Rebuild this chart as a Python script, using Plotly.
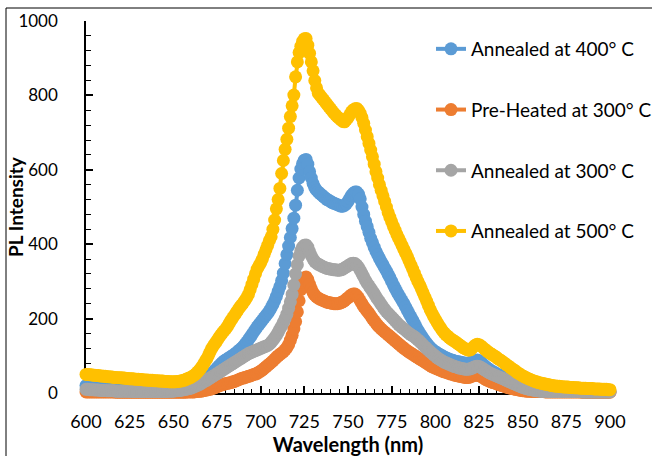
import plotly.graph_objects as go

# ---------------- data ----------------
wavelength = list(range(600, 901))  # nm, 1 nm step

annealed_400 = [
    20, 19, 18, 17, 16, 15, 14, 13, 12, 12,        # 600
    11, 11, 10, 10, 10, 9, 9, 9, 9, 8,             # 610
    8, 8, 8, 8, 8, 8, 7, 7, 7, 7,                  # 620
    7, 7, 7, 7, 7, 7, 7, 7, 7, 7,                  # 630
    7, 7, 7, 7, 7, 7, 7, 7, 7, 7,                  # 640
    7, 7, 8, 8, 9, 10, 11, 12, 13, 14,             # 650
    15, 16, 18, 20, 22, 24, 27, 30, 34, 38,        # 660
    42, 47, 52, 57, 62, 67, 72, 77, 82, 86,        # 670
    89, 92, 95, 98, 101, 104, 108, 112, 116, 120,  # 680
    125, 131, 137, 143, 150, 157, 164, 171, 178, 184,  # 690
    190, 196, 202, 208, 214, 221, 229, 238, 248, 260,  # 700
    273, 286, 302, 322, 348, 372, 395, 418, 442, 470,  # 710
    505, 545, 578, 602, 617, 626, 628, 615, 595, 578,  # 720
    563, 552, 545, 540, 536, 532, 528, 524, 520, 518,  # 730
    515, 512, 510, 508, 506, 504, 502, 502, 504, 508,  # 740
    515, 523, 531, 537, 540, 540, 535, 522, 500, 480,  # 750
    462, 447, 432, 416, 404, 392, 381, 371, 362, 353,  # 760
    345, 336, 328, 319, 310, 300, 290, 281, 272, 264,  # 770
    256, 248, 240, 231, 222, 213, 205, 196, 187, 178,  # 780
    169, 161, 154, 147, 140, 134, 128, 123, 118, 114,  # 790
    111, 108, 105, 102, 100, 97, 95, 93, 91, 89,       # 800
    88, 86, 85, 84, 83, 82, 81, 80, 80, 80,            # 810
    82, 84, 86, 88, 89, 87, 84, 79, 74, 70,            # 820
    66, 63, 60, 57, 55, 52, 50, 47, 45, 42,            # 830
    40, 38, 36, 34, 32, 30, 28, 26, 25, 23,            # 840
    22, 21, 20, 19, 18, 17, 16, 15, 14, 14,            # 850
    13, 13, 12, 12, 11, 11, 11, 10, 10, 10,            # 860
    9, 9, 9, 9, 8, 8, 8, 8, 8, 7,                      # 870
    7, 7, 7, 7, 6, 6, 6, 6, 6, 6,                      # 880
    5, 5, 5, 5, 5, 5, 4, 4, 4, 4,                      # 890
    4,                                                 # 900
]

preheated_300 = [
    3, 3, 3, 3, 3, 3, 3, 3, 3, 3,                  # 600
    3, 3, 3, 3, 3, 3, 3, 2, 2, 2,                  # 610
    2, 2, 2, 2, 2, 2, 2, 2, 2, 2,                  # 620
    2, 2, 2, 2, 2, 2, 2, 2, 2, 2,                  # 630
    2, 2, 2, 2, 2, 2, 2, 2, 2, 2,                  # 640
    2, 2, 2, 2, 2, 2, 2, 2, 3, 3,                  # 650
    3, 3, 3, 4, 4, 5, 5, 6, 7, 8,                  # 660
    9, 10, 12, 13, 15, 17, 19, 21, 22, 24,         # 670
    25, 26, 27, 28, 30, 31, 33, 35, 37, 39,        # 680
    40, 42, 43, 45, 46, 48, 50, 51, 53, 56,        # 690
    59, 62, 66, 70, 74, 78, 82, 86, 91, 96,        # 700
    100, 104, 107, 111, 116, 122, 130, 142, 155, 172,  # 710
    192, 218, 248, 278, 298, 309, 312, 305, 292, 280,  # 720
    270, 263, 258, 255, 252, 250, 248, 246, 244, 243,  # 730
    242, 241, 240, 240, 240, 241, 243, 245, 248, 252,  # 740
    256, 260, 264, 266, 266, 262, 256, 248, 240, 232,  # 750
    226, 220, 214, 207, 200, 194, 188, 182, 177, 172,  # 760
    168, 164, 160, 156, 152, 148, 144, 140, 136, 132,  # 770
    128, 124, 120, 117, 113, 110, 107, 104, 101, 98,   # 780
    95, 92, 89, 86, 83, 80, 77, 74, 71, 69,            # 790
    67, 65, 63, 61, 59, 57, 56, 54, 53, 51,            # 800
    50, 48, 47, 46, 45, 44, 43, 42, 42, 42,            # 810
    43, 45, 47, 48, 48, 47, 45, 42, 39, 36,            # 820
    34, 32, 30, 28, 27, 25, 23, 22, 20, 19,            # 830
    17, 16, 14, 13, 12, 11, 10, 9, 8, 7,               # 840
    6, 6, 5, 5, 5, 4, 4, 4, 4, 4,                      # 850
    4, 4, 4, 3, 3, 3, 3, 3, 3, 3,                      # 860
    3, 3, 3, 3, 3, 3, 3, 3, 3, 3,                      # 870
    3, 3, 3, 3, 2, 2, 2, 2, 2, 2,                      # 880
    2, 2, 2, 2, 2, 2, 2, 2, 2, 2,                      # 890
    2,                                                 # 900
]

annealed_300 = [
    10, 10, 9, 9, 9, 8, 8, 8, 7, 7,                # 600
    7, 7, 6, 6, 6, 6, 6, 5, 5, 5,                  # 610
    5, 5, 5, 5, 5, 5, 4, 4, 4, 4,                  # 620
    4, 4, 4, 4, 4, 4, 4, 4, 4, 4,                  # 630
    4, 4, 4, 4, 4, 4, 4, 5, 5, 5,                  # 640
    5, 6, 6, 7, 7, 8, 9, 10, 11, 12,               # 650
    13, 15, 17, 19, 21, 23, 26, 29, 32, 34,        # 660
    37, 40, 43, 46, 49, 52, 55, 58, 61, 64,        # 670
    67, 70, 73, 76, 79, 82, 85, 88, 91, 94,        # 680
    97, 100, 103, 106, 108, 110, 112, 114, 116, 118,   # 690
    120, 122, 124, 126, 128, 131, 136, 142, 148, 155,  # 700
    163, 172, 180, 190, 200, 212, 228, 245, 265, 290,  # 710
    320, 345, 368, 383, 392, 397, 398, 392, 380, 369,  # 720
    360, 353, 349, 346, 344, 341, 339, 337, 335, 334,  # 730
    333, 332, 331, 331, 330, 330, 331, 333, 336, 339,  # 740
    342, 345, 348, 349, 348, 344, 338, 330, 321, 312,  # 750
    303, 295, 288, 281, 274, 267, 259, 252, 245, 238,  # 760
    231, 225, 219, 214, 209, 204, 199, 194, 189, 184,  # 770
    180, 176, 172, 168, 164, 160, 157, 154, 151, 147,  # 780
    143, 139, 134, 129, 124, 120, 115, 111, 107, 103,  # 790
    99, 95, 92, 89, 86, 83, 81, 79, 77, 75,            # 800
    73, 71, 70, 68, 67, 66, 65, 64, 64, 64,            # 810
    65, 67, 69, 71, 72, 71, 69, 66, 63, 60,            # 820
    57, 54, 52, 50, 48, 46, 44, 42, 40, 38,            # 830
    36, 33, 31, 29, 27, 25, 23, 21, 19, 17,            # 840
    15, 14, 12, 11, 10, 9, 8, 7, 6, 6,                 # 850
    5, 5, 5, 5, 5, 4, 4, 4, 4, 4,                      # 860
    4, 4, 4, 4, 4, 4, 4, 4, 4, 4,                      # 870
    4, 4, 4, 4, 3, 3, 3, 3, 3, 3,                      # 880
    3, 3, 3, 3, 3, 3, 3, 3, 3, 3,                      # 890
    3,                                                 # 900
]

annealed_500 = [
    50, 50, 49, 49, 48, 48, 47, 47, 46, 46,        # 600
    45, 45, 44, 44, 43, 43, 42, 42, 41, 41,        # 610
    41, 40, 40, 39, 39, 38, 38, 38, 37, 37,        # 620
    37, 36, 36, 35, 35, 35, 34, 34, 34, 33,        # 630
    33, 33, 32, 32, 32, 31, 31, 31, 30, 30,        # 640
    30, 30, 31, 31, 32, 33, 34, 36, 38, 40,        # 650
    42, 45, 48, 52, 57, 62, 68, 75, 83, 91,        # 660
    100, 110, 120, 127, 134, 141, 148, 155, 161, 167,  # 670
    172, 179, 187, 195, 202, 209, 216, 223, 230, 236,  # 680
    242, 249, 256, 265, 278, 292, 306, 320, 333, 342,  # 690
    350, 360, 373, 385, 397, 410, 420, 440, 465, 495,  # 700
    520, 550, 590, 625, 655, 682, 712, 743, 772, 801,  # 710
    850, 890, 915, 932, 945, 952, 953, 935, 913, 890,  # 720
    866, 840, 820, 806, 800, 794, 788, 782, 776, 770,  # 730
    764, 758, 752, 747, 742, 738, 734, 730, 729, 734,  # 740
    740, 748, 756, 761, 764, 765, 760, 752, 740, 725,  # 750
    707, 689, 671, 653, 635, 615, 595, 578, 560, 545,  # 760
    530, 515, 500, 485, 472, 460, 448, 437, 426, 416,  # 770
    406, 396, 386, 376, 366, 355, 344, 333, 322, 311,  # 780
    300, 290, 280, 269, 258, 247, 236, 225, 215, 206,  # 790
    198, 190, 182, 175, 168, 162, 157, 153, 149, 145,  # 800
    142, 139, 136, 132, 129, 125, 122, 119, 117, 115,  # 810
    116, 120, 125, 129, 131, 130, 127, 123, 119, 115,  # 820
    111, 108, 105, 102, 99, 96, 92, 89, 86, 82,        # 830
    79, 75, 72, 68, 65, 62, 58, 55, 52, 49,            # 840
    46, 44, 41, 39, 37, 35, 33, 31, 30, 28,            # 850
    27, 26, 25, 24, 23, 22, 21, 20, 19, 19,            # 860
    18, 18, 17, 17, 16, 16, 16, 15, 15, 15,            # 870
    14, 14, 14, 13, 13, 13, 13, 12, 12, 12,            # 880
    12, 11, 11, 11, 11, 10, 10, 10, 10, 9,             # 890
    9,                                                 # 900
]

series_names = ["Annealed at 400° C", "Pre-Heated at 300° C",
                "Annealed at 300° C", "Annealed at 500° C"]
series_values = [annealed_400, preheated_300, annealed_300, annealed_500]
series_colors = ["#5B9BD5", "#ED7D31", "#A5A5A5", "#FFC000"]

x_ticks = [600, 625, 650, 675, 700, 725, 750, 775, 800, 825, 850, 875, 900]
y_ticks = [0, 200, 400, 600, 800, 1000]

FONT = "Lato"

# ---------------- figure ----------------
fig = go.Figure()
for i, (name, vals, col) in enumerate(zip(series_names, series_values, series_colors)):
    if len(vals) != len(wavelength):
        raise ValueError(f"{name}: {len(vals)} values")
    fig.add_trace(go.Scatter(
        x=wavelength, y=vals, name=name, mode="lines+markers",
        line=dict(color=col, width=4),
        marker=dict(color=col, size=13, line=dict(width=0)),
        cliponaxis=False, legendgroup=f"g{i}",
    ))

W, H = 652, 456
L, R, T, B = 86, 42, 21, 63
pw, ph = W - L - R, H - T - B

fig.update_layout(
    width=W, height=H,
    margin=dict(l=L, r=R, t=T, b=B, pad=0, autoexpand=False),
    paper_bgcolor="white", plot_bgcolor="white",
    font=dict(family=FONT, color="#000000", size=18),
    showlegend=True,
    legend=dict(
        x=(431 - L) / pw, y=(393 - 30) / ph, xanchor="left", yanchor="top",
        bgcolor="rgba(0,0,0,0)", font=dict(family=FONT, size=19, color="#000000"),
        tracegroupgap=33, traceorder="grouped",
    ),
    xaxis=dict(
        range=[600, 900], tickmode="array", tickvals=x_ticks,
        ticks="inside", ticklen=7, tickwidth=1.5, tickcolor="black",
        minor=dict(dtick=5, tick0=600, ticks="inside", ticklen=4,
                   tickwidth=1, tickcolor="black"),
        showline=True, linecolor="black", linewidth=1.5,
        showgrid=False, zeroline=False, layer="below traces",
        tickfont=dict(family=FONT, size=18, color="#000000"),
        ticklabelstandoff=12, automargin=False,
        title=dict(text="<b>Wavelength (nm)</b>", standoff=6,
                   font=dict(family=FONT, size=20, color="#000000")),
    ),
    yaxis=dict(
        range=[0, 1000], tickmode="array", tickvals=y_ticks,
        ticks="inside", ticklen=7, tickwidth=1.5, tickcolor="black",
        minor=dict(dtick=40, tick0=0, ticks="inside", ticklen=5,
                   tickwidth=1, tickcolor="black"),
        showline=True, linecolor="black", linewidth=1.5,
        showgrid=False, zeroline=False, layer="below traces",
        tickfont=dict(family=FONT, size=17, color="#000000"),
        ticklabelstandoff=23, automargin=False,
    ),
    annotations=[dict(
        text="<b>PL Intensity</b>", textangle=-90, showarrow=False,
        xref="paper", yref="paper", x=(15 - L) / pw, y=0.5,
        xanchor="center", yanchor="middle",
        font=dict(family=FONT, size=19, color="#000000"),
    )],
    shapes=[dict(
        type="rect", xref="paper", yref="paper", layer="below",
        x0=(6 - L) / pw, x1=1.3, y0=-0.4, y1=(393 - 8) / ph,
        line=dict(color="#000000", width=1), fillcolor="rgba(0,0,0,0)",
    )],
)

fig.write_html(
    "out.html",
    config={"displayModeBar": False},
    post_script="document.body.style.margin='0px';"
                "document.body.style.overflow='hidden';",
)
